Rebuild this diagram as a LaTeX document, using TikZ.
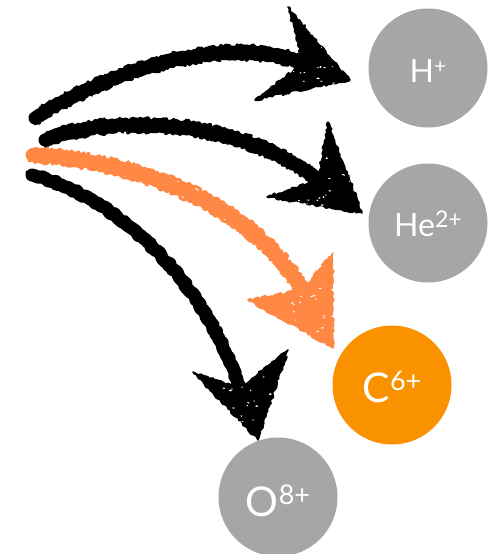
\documentclass[tikz,border=0pt]{standalone}
\usepackage{fontspec}
\setmainfont{Lato}
\usetikzlibrary{decorations.pathmorphing,calc}
\definecolor{iongray}{HTML}{A6A6A6}
\definecolor{ionorange}{HTML}{FA9200}
\definecolor{arroworange}{HTML}{FF8845}
\tikzset{
  ion/.style={circle, minimum size=119pt, inner sep=0pt, draw=none},
  rough/.style={decorate, decoration={random steps, segment length=2.5pt, amplitude=1.3pt}},
  rougher/.style={decorate, decoration={random steps, segment length=2pt, amplitude=2pt}},
  shaft/.style={rough, line width=13pt, line cap=round, line join=round},
  shaftedge/.style={rougher, line width=3pt, line cap=round, line join=round},
  headfill/.style={rough, line width=1.5pt, line join=round},
  lbl/.style={text=white, inner sep=0pt},
}
\newcommand{\ionlabel}[7]{% #1 pos, #2 name, #3 main size, #4 main text, #5 sup size, #6 sup text, #7 raise
  \node[lbl] (#2) at (#1) {\fontsize{#3}{#3}\selectfont #4\raisebox{#7pt}{\fontsize{#5}{#5}\selectfont #6}};}
\newcommand{\specks}[3]{% center x, y, radius
  \foreach \k in {1,...,22}{
    \fill[white] ($(#1,#2)+(rand*#3,rand*#3)$) ellipse ({0.6+rnd*1.2} and {0.4+rnd*0.6});
  }}
\begin{document}
\begin{tikzpicture}[x=1pt,y=-1pt]
\pgfmathsetseed{11}
\useasboundingbox (0,0) rectangle (490,554);

% ion circles
\node[ion, fill=iongray] (H) at (428,68) {};
\node[ion, fill=iongray] (He) at (428,223) {};
\node[ion, fill=ionorange] (C) at (392,385) {};
\node[ion, fill=iongray] (O) at (278,497) {};

\ionlabel{428,71}{Hl}{32}{H}{21}{+}{9}
\ionlabel{428,224}{Hel}{32}{He}{23}{2+}{9}
\ionlabel{392,387}{Cl}{41}{C}{27}{6+}{12}
\ionlabel{278,501}{Ol}{41}{O}{27}{8+}{12}

% ---------- arrow 1 (to H+) ----------
\coordinate (s1) at (35,118);
\coordinate (n1) at (303,63);
\coordinate (a1) at (288,7);
\coordinate (t1) at (350,80);
\coordinate (c1) at (255,100);
\draw[shaft] (s1) .. controls (120,65) and (230,35) .. (n1);
\draw[shaftedge, transform canvas={shift={(0pt,6pt)}}] (s1) .. controls (120,65) and (230,35) .. (n1);
\draw[shaftedge, transform canvas={shift={(0pt,-6pt)}}] (s1) .. controls (120,65) and (230,35) .. (n1);
\filldraw[headfill] (a1) -- (t1) -- (c1) -- (n1) -- cycle;
\begin{scope}
  \clip (a1) -- (t1) -- (c1) -- (n1) -- cycle;
  \specks{310}{65}{28}
\end{scope}

% ---------- arrow 2 (to He2+) ----------
\coordinate (s2) at (45,140);
\coordinate (n2) at (318,180);
\coordinate (a2) at (328,122);
\coordinate (t2) at (362,213);
\coordinate (c2) at (267,197);
\draw[shaft] (s2) .. controls (100,118) and (230,112) .. (n2);
\draw[shaftedge, transform canvas={shift={(0pt,6pt)}}] (s2) .. controls (100,118) and (230,112) .. (n2);
\draw[shaftedge, transform canvas={shift={(0pt,-6pt)}}] (s2) .. controls (100,118) and (230,112) .. (n2);
\filldraw[headfill] (a2) -- (t2) -- (c2) -- (n2) -- cycle;
\begin{scope}
  \clip (a2) -- (t2) -- (c2) -- (n2) -- cycle;
  \specks{325}{185}{28}
\end{scope}

% ---------- arrow 3 (orange, to C6+) ----------
\coordinate (s3) at (32,155);
\coordinate (n3) at (302,290);
\coordinate (a3) at (333,253);
\coordinate (t3) at (333,348);
\coordinate (c3) at (248,300);
\begin{scope}[arroworange, draw=arroworange, fill=arroworange]
\draw[shaft] (s3) .. controls (130,160) and (250,200) .. (n3);
\draw[shaftedge, transform canvas={shift={(3pt,6pt)}}] (s3) .. controls (130,160) and (250,200) .. (n3);
\draw[shaftedge, transform canvas={shift={(-3pt,-6pt)}}] (s3) .. controls (130,160) and (250,200) .. (n3);
\filldraw[headfill] (a3) -- (t3) -- (c3) -- (n3) -- cycle;
\end{scope}
\begin{scope}
  \clip (a3) -- (t3) -- (c3) -- (n3) -- cycle;
  \specks{310}{305}{28}
\end{scope}

% ---------- arrow 4 (to O8+) ----------
\coordinate (s4) at (32,175);
\coordinate (n4) at (240,388);
\coordinate (a4) at (288,350);
\coordinate (t4) at (258,440);
\coordinate (c4) at (193,372);
\draw[shaft] (s4) .. controls (110,195) and (200,270) .. (n4);
\draw[shaftedge, transform canvas={shift={(5pt,-3pt)}}] (s4) .. controls (110,195) and (200,270) .. (n4);
\draw[shaftedge, transform canvas={shift={(-5pt,3pt)}}] (s4) .. controls (110,195) and (200,270) .. (n4);
\filldraw[headfill] (a4) -- (t4) -- (c4) -- (n4) -- cycle;
\begin{scope}
  \clip (a4) -- (t4) -- (c4) -- (n4) -- cycle;
  \specks{248}{395}{28}
\end{scope}
\end{tikzpicture}
\end{document}
